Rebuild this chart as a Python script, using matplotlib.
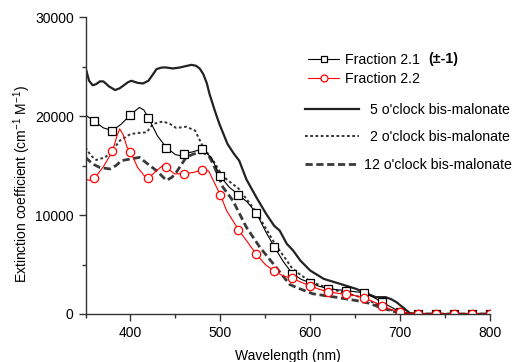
import numpy as np
import matplotlib
matplotlib.use("Agg")
import matplotlib.pyplot as plt
from matplotlib.lines import Line2D
from matplotlib.ticker import MultipleLocator

plt.rcParams['font.family'] = ['Liberation Sans', 'DejaVu Sans']
plt.rcParams['mathtext.fontset'] = 'custom'
plt.rcParams['mathtext.rm'] = 'Liberation Sans'
plt.rcParams['mathtext.bf'] = 'Liberation Sans:bold'

# Fraction 2.1 (squares every 20 nm from 360)
f21_wl = [350, 360, 370, 380, 390, 400, 410, 415, 420, 430, 440, 450, 455, 460, 470, 480, 490, 500,
          510, 520, 530, 540, 550, 560, 570, 580, 590, 600, 610, 620, 630, 640, 650, 660, 670, 680,
          690, 700, 710, 720, 740, 760, 780, 800]
f21_eps = [20100, 19450, 18800, 18520, 19200, 20130, 20870, 20600, 19800, 18000, 16800, 16100, 16000, 16190,
           16400, 16670, 15800, 13900, 12800, 12060, 11300, 10210, 8400, 6780, 5300, 4090, 3500, 3150,
           2800, 2570, 2450, 2370, 2250, 2140, 1700, 1190, 700, 220, 80, 50, 0, 0, 0, 0]

# Fraction 2.2 (circles every 20 nm from 360)
f22_wl = [350, 355, 360, 370, 380, 385, 388, 392, 396, 400, 408, 416, 420, 429, 436, 440, 449, 460, 470,
          480, 487, 494, 500, 507, 520, 530, 540, 550, 560, 570, 580, 590, 600, 610, 620, 630, 640, 650,
          660, 670, 680, 690, 700, 710, 720, 740, 760, 780, 800]
f22_eps = [13600, 13500, 13700, 14900, 16430, 18000, 18700, 18100, 16900, 16400, 14800, 13900, 13700,
           14480, 15000, 14800, 14150, 14180, 14300, 14550, 14450, 13140, 12030, 10440, 8530, 7300, 6030,
           5000, 4320, 3850, 3610, 3200, 2840, 2500, 2240, 2100, 2000, 1850, 1630, 1250, 830, 450, 220,
           80, 20, 0, 0, 0, 0]

marker_wl = list(range(360, 801, 20))

# calculated spectra
five_wl = [350, 354, 358, 362, 366, 370, 376, 383, 388, 392, 397, 401, 408, 414, 420, 425, 429, 435,
           440, 447, 455, 462, 468, 473, 477, 481, 485, 488, 494, 499, 508, 515, 521, 529, 540, 551,
           560, 566, 574, 581, 589, 600, 615, 633, 651, 662, 673, 684, 690, 696, 704, 711, 720, 800]
five_eps = [24900, 23560, 23100, 23230, 23500, 23490, 23000, 22620, 22800, 23060, 23400, 23560, 23350,
            23290, 23560, 24200, 24740, 24900, 24900, 24800, 24900, 25050, 25170, 25070, 24800, 24240,
            23300, 22220, 20500, 19190, 17170, 16200, 15490, 13600, 11800, 10110, 8900, 8430, 7080,
            6410, 5400, 4390, 3550, 3050, 2540, 2100, 1700, 1700, 1500, 1190, 600, 80, 0, 0]

two_wl = [350, 356, 362, 372, 380, 388, 400, 410, 418, 425, 436, 444, 451, 462, 472, 481, 492, 500,
          507, 520, 540, 560, 580, 590, 600, 620, 640, 660, 680, 700, 710, 800]
two_eps = [16830, 16000, 15560, 15830, 16500, 17500, 18180, 18300, 18350, 19190, 19450, 19200, 18790,
           18920, 18520, 16830, 15490, 14300, 13600, 12700, 10300, 7200, 4600, 3900, 3300, 2600, 2100,
           1600, 700, 100, 0, 0]

twelve_wl = [350, 358, 366, 377, 384, 390, 400, 410, 420, 429, 440, 446, 451, 456, 462, 470, 481, 487,
             492, 503, 514, 529, 544, 562, 577, 584, 603, 628, 651, 665, 677, 695, 710, 800]
twelve_eps = [15820, 15150, 14800, 14650, 15000, 15490, 15660, 15820, 15100, 14480, 13500, 13800, 14310,
              15000, 15820, 16160, 16330, 16000, 15160, 12790, 11450, 8760, 6740, 4720, 3000, 2700, 2040,
              1700, 1360, 1100, 690, 200, 0, 0]

fig = plt.figure(figsize=(5.16, 3.62), dpi=100)
ax = fig.add_axes([0.1657, 0.1326, 0.7839, 0.8204])

ax.plot(five_wl, five_eps, color='#222222', lw=1.6)
ax.plot(two_wl, two_eps, color='#333333', lw=1.4, dashes=(1.4, 1.3))
ax.plot(twelve_wl, twelve_eps, color='#3a3a3a', lw=2.0, dashes=(2.6, 1.3))

mk21 = [i for i, w in enumerate(f21_wl) if w in marker_wl]
mk22 = [i for i, w in enumerate(f22_wl) if w in marker_wl]
ax.plot(f21_wl, f21_eps, color='black', lw=0.8, marker='s', ms=5.5, mfc='white', mec='black',
        mew=0.9, markevery=mk21)
ax.plot(f22_wl, f22_eps, color='red', lw=0.8, marker='o', ms=6, mfc='white', mec='red',
        mew=0.9, markevery=mk22)

ax.set_xlim(350, 800)
ax.set_ylim(0, 30000)
ax.xaxis.set_major_locator(MultipleLocator(100))
ax.xaxis.set_minor_locator(MultipleLocator(50))
ax.yaxis.set_major_locator(MultipleLocator(10000))
ax.yaxis.set_minor_locator(MultipleLocator(5000))
ax.spines['top'].set_visible(False)
ax.spines['right'].set_visible(False)
for s in ['left', 'bottom']:
    ax.spines[s].set_linewidth(1.0)
    ax.spines[s].set_color('#333333')
ax.tick_params(which='major', direction='out', length=5, width=1, labelsize=10, colors='#333333',
               labelcolor='black')
ax.tick_params(which='minor', direction='out', length=3, width=1, colors='#333333')

ax.set_xlabel('Wavelength (nm)', fontsize=10)
ax.xaxis.set_label_coords(0.5, -0.14)
ax.xaxis.label.set_va('center')
ax.set_ylabel(r'Extinction coefficient (cm$^{-1}$ M$^{-1}$)', fontsize=10)
ax.yaxis.set_label_coords(-0.156, 0.438)
ax.yaxis.label.set_va('center')

fs = 10.2
h1 = [Line2D([], [], color='black', lw=0.8, marker='s', ms=4.5, mfc='white', mec='black', mew=0.9),
      Line2D([], [], color='red', lw=0.8, marker='o', ms=5, mfc='white', mec='red', mew=0.9)]
leg1 = fig.legend(h1, ['Fraction 2.1', 'Fraction 2.2'], loc='upper left',
                  bbox_to_anchor=(308 / 516, 1 - 53 / 362), frameon=False, fontsize=fs,
                  handlelength=2.2, handletextpad=0.4, labelspacing=0.35, borderpad=0, borderaxespad=0)
fig.text(428 / 516, 1 - 59 / 362, '(\u00b1-1)', fontsize=fs, fontweight='bold', va='center')

h2 = [Line2D([], [], color='#222222', lw=1.6),
      Line2D([], [], color='#333333', lw=1.4, dashes=(1.4, 1.3))]
leg2 = fig.legend(h2, ["5 o'clock bis-malonate", "2 o'clock bis-malonate"],
                  loc='upper left', bbox_to_anchor=(305 / 516, 1 - 103 / 362), frameon=False,
                  fontsize=fs, handlelength=3.8, handletextpad=0.8, labelspacing=0.95,
                  borderpad=0, borderaxespad=0)
h3 = [Line2D([], [], color='#3a3a3a', lw=2.0, dashes=(2.6, 1.3))]
leg3 = fig.legend(h3, ["12 o'clock bis-malonate"],
                  loc='upper left', bbox_to_anchor=(305 / 516, 1 - 158 / 362), frameon=False,
                  fontsize=fs, handlelength=3.8, handletextpad=0.4,
                  borderpad=0, borderaxespad=0)

fig.savefig('out.png', dpi=100)
